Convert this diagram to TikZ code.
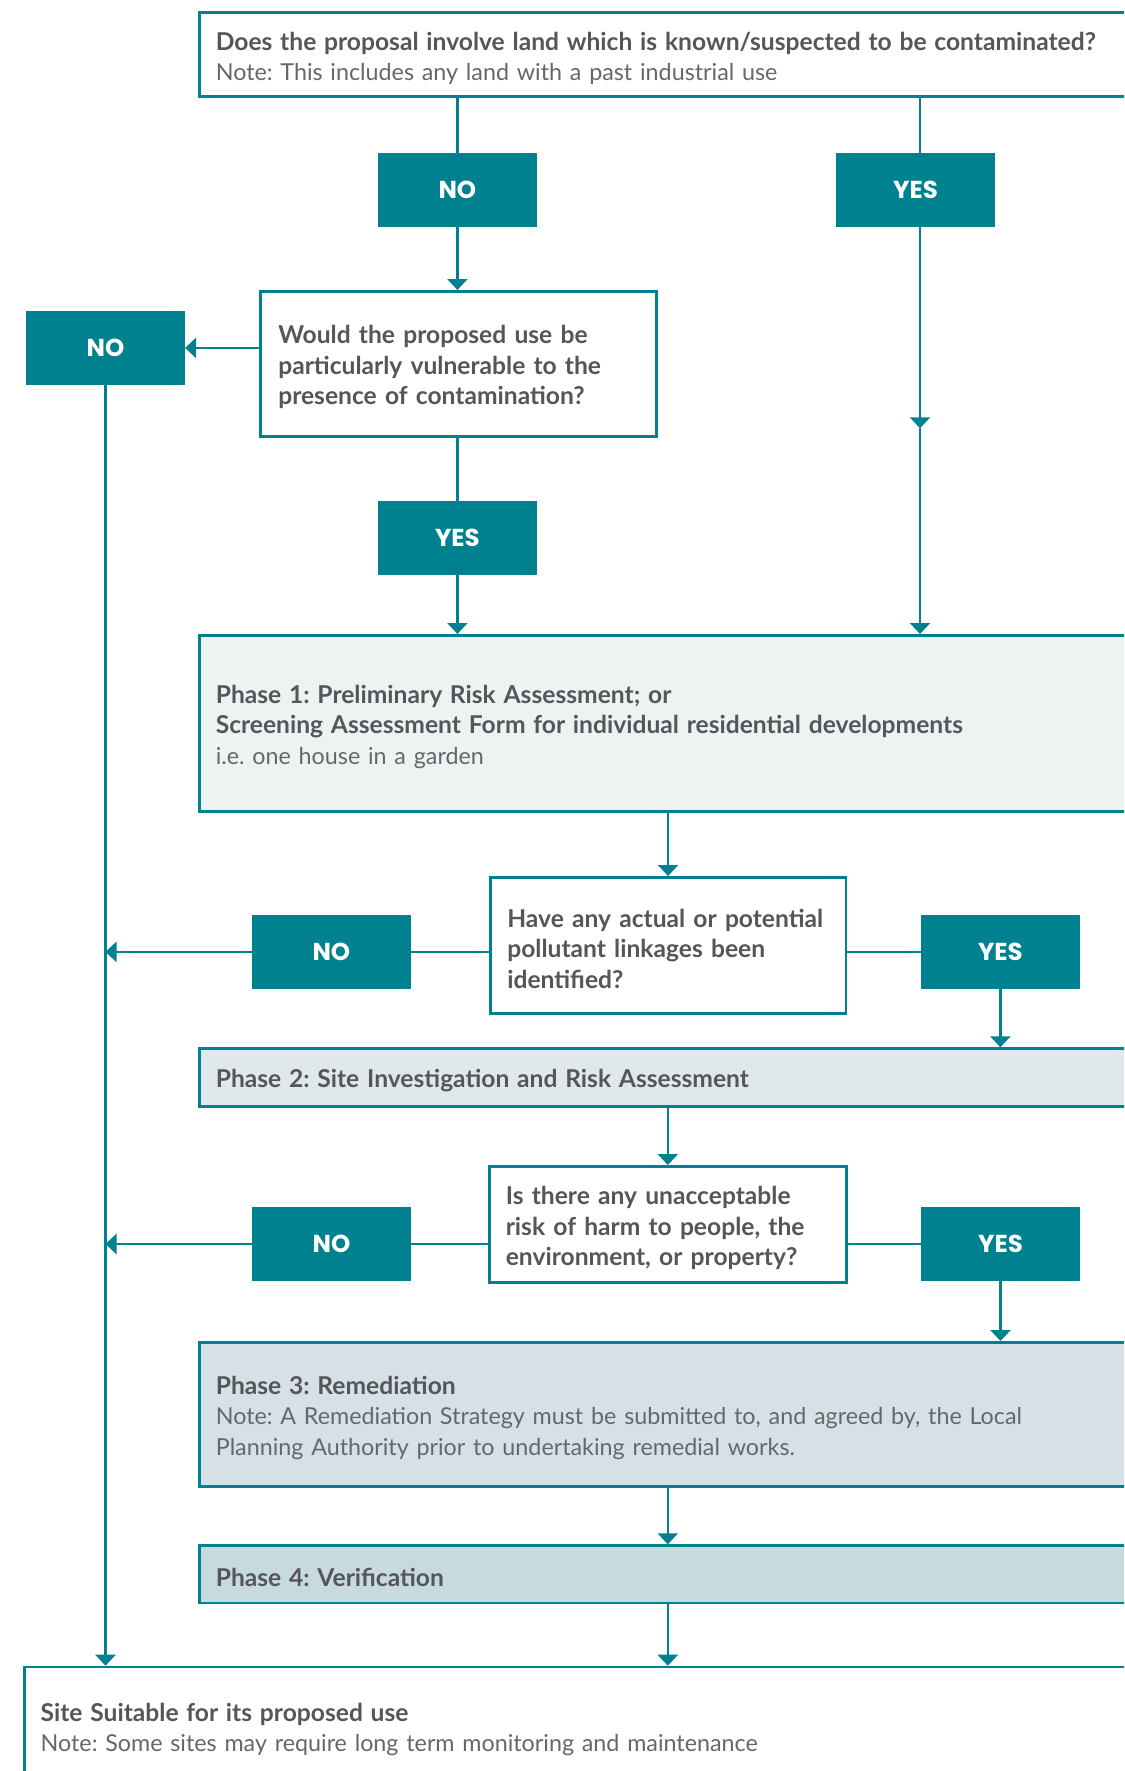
\documentclass[tikz,border=0pt]{standalone}
\usepackage{fontspec}
\setmainfont{Lato}
\newfontfamily\labfont{Poppins}
\usetikzlibrary{arrows.meta}
\definecolor{tealc}{HTML}{00818F}
\definecolor{txtc}{HTML}{55565A}
\definecolor{notec}{HTML}{66676B}
\definecolor{pa}{HTML}{EDF3F3}
\definecolor{pb}{HTML}{E1E8EB}
\definecolor{pc}{HTML}{D5E1E6}
\definecolor{pd}{HTML}{C7DAE0}
\frenchspacing
\newcommand{\bt}[1]{{\fontsize{24.6}{30.5}\selectfont\bfseries #1}}
\newcommand{\nt}[1]{{\color{notec}#1}}
\newcommand{\tstrut}{\rule{0pt}{25.5pt}}
\tikzset{
  box/.style={draw=tealc, line width=2.6pt, anchor=north west, align=left,
    inner xsep=16.5pt, inner ysep=0pt, text=txtc,
    font=\fontsize{23.3}{30.5}\selectfont},
  qbox/.style={box, fill=white, font=\fontsize{24.6}{30.5}\selectfont\bfseries},
  lab/.style={fill=tealc, text=white, inner sep=0pt,
    minimum width=158.7pt, minimum height=73.7pt,
    font=\labfont\fontsize{24.5}{27}\selectfont\bfseries},
  conn/.style={draw=tealc, line width=2.4pt},
  arr/.style={conn, -{Triangle[width=20pt,length=11pt]}},
}
\begin{document}
\begin{tikzpicture}[x=1pt,y=-1pt]
\useasboundingbox (0,0) rectangle (1124,1771);
\clip (0,0) rectangle (1124,1771);
\fill[white] (0,0) rectangle (1124,1771);

% boxes
\node[box, fill=white, text width=909pt, minimum height=84.5pt] (top) at (198,11)
  {\tstrut\bt{Does the proposal involve land which is known/suspected to be contaminated?}\\
   \nt{Note: This includes any land with a past industrial use}};
\node[lab] (no1) at (457.4,189.9) {NO};
\node[lab] (yes1) at (915.5,189.9) {YES};
\coordinate (rx) at (920,0);
\coordinate (mid) at (920,428.3);

\node[qbox, inner xsep=18pt, text width=360pt, minimum height=145pt] (q2) at (259,290)
  {\tstrut\mbox{Would the proposed use be}\\ \mbox{particularly vulnerable to the}\\ \mbox{presence of contamination?}};
\node[lab] (no2) at (105.5,347.9) {NO};
\node[lab] (yes2) at (457.4,537.9) {YES};

\node[box, fill=pa, text width=909pt, minimum height=176pt] (p1) at (198,634)
  {\tstrut\bt{Phase 1: Preliminary Risk Assessment; or}\\
   \bt{Screening Assessment Form for individual residential developments}\\
   \nt{i.e. one house in a garden}};

\node[qbox, inner xsep=17pt, text width=321.5pt, minimum height=136pt] (q3) at (489,876)
  {\tstrut\mbox{Have any actual or potential}\\ \mbox{pollutant linkages been}\\ \mbox{identified?}};
\node[lab] (no3) at (331.4,951.9) {NO};
\node[lab] (yes3) at (1000.4,951.9) {YES};

\node[box, fill=pb, text width=909pt, minimum height=57.7pt] (p2) at (198,1047.3)
  {\tstrut\bt{Phase 2: Site Investigation and Risk Assessment}};

\node[qbox, inner xsep=16.5pt, text width=324pt, minimum height=116pt] (q4) at (488,1165)
  {\tstrut\mbox{Is there any unacceptable}\\ \mbox{risk of harm to people, the}\\ \mbox{environment, or property?}};
\node[lab] (no4) at (331.5,1244) {NO};
\node[lab] (yes4) at (1000.5,1244) {YES};

\node[box, fill=pc, text width=909pt, minimum height=144pt] (p3) at (198,1341)
  {\tstrut\bt{Phase 3: Remediation}\\
   \nt{Note: A Remediation Strategy must be submitted to, and agreed by, the Local}\\
   \nt{Planning Authority prior to undertaking remedial works.}};

\node[box, fill=pd, text width=909pt, minimum height=57.4pt] (p4) at (198,1544.3)
  {\tstrut\bt{Phase 4: Verification}};

\node[box, fill=white, inner xsep=16.4pt, text width=1084pt, minimum height=117.3pt] (site) at (23,1665.7)
  {\tstrut\bt{Site Suitable for its proposed use}\\
   \nt{Note: Some sites may require long term monitoring and maintenance}};

% connectors
\draw[conn] (top.south -| no1.north) -- (no1.north);
\draw[arr] (no1.south) -- (q2.north -| no1.south);
\draw[conn] (top.south -| rx) -- (yes1.north -| rx);
\draw[arr] (yes1.south -| rx) -- (mid);
\draw[arr] (mid) -- (p1.north -| rx);
\draw[arr] (q2.west |- no2.east) -- (no2.east);
\draw[arr] (no2.south) -- (no2.south |- site.north);
\draw[conn] (q2.south -| yes2.north) -- (yes2.north);
\draw[arr] (yes2.south) -- (p1.north -| yes2.south);

\draw[arr] (p1.south -| q3.north) -- (q3.north);
\draw[conn] (q3.west |- no3.east) -- (no3.east);
\draw[arr] (no3.west) -- (no3.west -| no2.south);
\draw[conn] (q3.east |- yes3.west) -- (yes3.west);
\draw[arr] (yes3.south) -- (p2.north -| yes3.south);

\draw[arr] (p2.south -| q4.north) -- (q4.north);
\draw[conn] (q4.west |- no4.east) -- (no4.east);
\draw[arr] (no4.west) -- (no4.west -| no2.south);
\draw[conn] (q4.east |- yes4.west) -- (yes4.west);
\draw[arr] (yes4.south) -- (p3.north -| yes4.south);

\draw[arr] (p3.south -| q4.south) -- (p4.north -| q4.south);
\draw[arr] (p4.south -| q4.south) -- (site.north -| q4.south);
\end{tikzpicture}
\end{document}
